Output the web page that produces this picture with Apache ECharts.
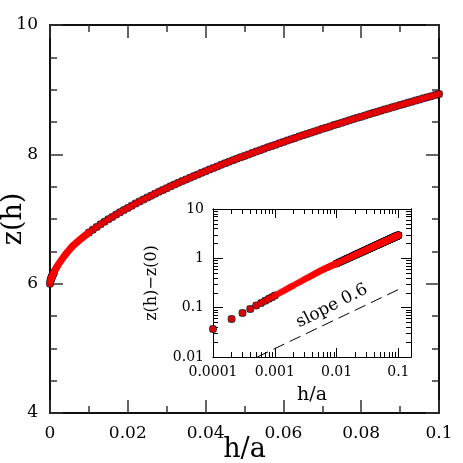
<!DOCTYPE html>
<html>
<head>
<meta charset="utf-8">
<title>z(h)</title>
<script src="https://cdn.jsdelivr.net/npm/echarts@6.0.0/dist/echarts.min.js"></script>
<style>html,body{margin:0;padding:0;background:#fff;}</style>
</head>
<body>
<div id="main" style="width:463px;height:463px;"></div>
<script>
// h/a samples (fine below 0.01, coarse above)
var hVals = [
  0,
  0.0001, 0.0002, 0.0003, 0.0004, 0.0005, 0.0006, 0.0007, 0.0008, 0.0009, 0.001,
  0.0011, 0.0012, 0.0013, 0.0014, 0.0015, 0.0016, 0.0017, 0.0018, 0.0019, 0.002,
  0.0022, 0.0024, 0.0026, 0.0028, 0.003, 0.0032, 0.0034, 0.0036, 0.0038, 0.004,
  0.0042, 0.0044, 0.0046, 0.0048, 0.005, 0.0052, 0.0054, 0.0056, 0.0058, 0.006,
  0.0062, 0.0064, 0.0066, 0.0068, 0.007, 0.0072, 0.0074, 0.0076, 0.0078, 0.008,
  0.0082, 0.0084, 0.0086, 0.0088, 0.009, 0.0092, 0.0094, 0.0096, 0.0098, 0.01,
  0.011, 0.012, 0.013, 0.014, 0.015, 0.016, 0.017, 0.018, 0.019, 0.02,
  0.021, 0.022, 0.023, 0.024, 0.025, 0.026, 0.027, 0.028, 0.029, 0.03,
  0.031, 0.032, 0.033, 0.034, 0.035, 0.036, 0.037, 0.038, 0.039, 0.04,
  0.041, 0.042, 0.043, 0.044, 0.045, 0.046, 0.047, 0.048, 0.049, 0.05,
  0.051, 0.052, 0.053, 0.054, 0.055, 0.056, 0.057, 0.058, 0.059, 0.06,
  0.061, 0.062, 0.063, 0.064, 0.065, 0.066, 0.067, 0.068, 0.069, 0.07,
  0.071, 0.072, 0.073, 0.074, 0.075, 0.076, 0.077, 0.078, 0.079, 0.08,
  0.081, 0.082, 0.083, 0.084, 0.085, 0.086, 0.087, 0.088, 0.089, 0.09,
  0.091, 0.092, 0.093, 0.094, 0.095, 0.096, 0.097, 0.098, 0.099, 0.1
];
// z(h)
var zVals = [
  6.000,
  6.037, 6.059, 6.078, 6.094, 6.110, 6.124, 6.138, 6.151, 6.163, 6.176,
  6.188, 6.199, 6.210, 6.221, 6.232, 6.242, 6.252, 6.262, 6.272, 6.282,
  6.301, 6.319, 6.337, 6.354, 6.371, 6.388, 6.404, 6.420, 6.436, 6.451,
  6.467, 6.482, 6.496, 6.511, 6.525, 6.539, 6.553, 6.567, 6.579, 6.590,
  6.601, 6.612, 6.623, 6.634, 6.644, 6.655, 6.665, 6.675, 6.685, 6.695,
  6.705, 6.715, 6.724, 6.734, 6.744, 6.753, 6.762, 6.771, 6.781, 6.790,
  6.834, 6.876, 6.917, 6.956, 6.995, 7.032, 7.068, 7.104, 7.138, 7.172,
  7.205, 7.238, 7.269, 7.300, 7.331, 7.361, 7.391, 7.420, 7.449, 7.477,
  7.505, 7.532, 7.559, 7.586, 7.612, 7.638, 7.664, 7.690, 7.715, 7.740,
  7.765, 7.789, 7.813, 7.837, 7.861, 7.884, 7.907, 7.930, 7.953, 7.976,
  7.998, 8.021, 8.043, 8.064, 8.086, 8.108, 8.129, 8.150, 8.172, 8.192,
  8.213, 8.234, 8.254, 8.275, 8.295, 8.315, 8.335, 8.354, 8.374, 8.394,
  8.413, 8.432, 8.452, 8.471, 8.490, 8.508, 8.527, 8.546, 8.565, 8.583,
  8.601, 8.619, 8.638, 8.656, 8.674, 8.692, 8.709, 8.727, 8.745, 8.762,
  8.780, 8.797, 8.814, 8.832, 8.848, 8.866, 8.883, 8.900, 8.916, 8.933
];
var z0 = 6.0;

// main panel ticks
var mainXMajor = [0, 0.02, 0.04, 0.06, 0.08, 0.1];
var mainXMinor = [0.01, 0.03, 0.05, 0.07, 0.09];
var mainYMajor = [4, 6, 8, 10];
var mainYMinor = [4.5, 5, 5.5, 6.5, 7, 7.5, 8.5, 9, 9.5];

// inset ticks
var insetXMajor = [0.0001, 0.001, 0.01, 0.1];
var insetYMajor = [0.01, 0.1, 1, 10];
var slopeLine = [[0.00052, 0.01], [0.1, 0.233]];

function minorsOf(decades) {
  var out = [];
  decades.forEach(function (d) {
    for (var m = 2; m <= 9; m++) out.push(+(m * d).toPrecision(3));
  });
  return out;
}
var insetXMinor = minorsOf([0.0001, 0.001, 0.01]);
var insetYMinor = minorsOf([0.01, 0.1, 1]);

// build point lists
var allPts = [], markPts = [], insetAll = [], insetMark = [];
for (var i = 0; i < hVals.length; i++) {
  var h = hVals[i];
  allPts.push([h, zVals[i]]);
  var marked = (h <= 0.001 || h >= 0.01);
  if (marked) markPts.push([h, zVals[i]]);
  if (h > 0) {
    var d = +(zVals[i] - z0).toFixed(4);
    insetAll.push([h, d]);
    if (marked) insetMark.push([h, d]);
  }
}

var FONT = 'DejaVu Serif';
var crossPath = 'path://M0,0L10,10M10,0L0,10';

function logLabel(v) { return String(+(+v).toPrecision(3)); }

// one axis = line + ticks at given values, pointing inward
function makeAxis(type, grid, pos, min, max, ticks, len, color, width, extra) {
  var a = {
    type: type,
    gridIndex: grid,
    position: pos,
    min: min,
    max: max,
    axisLine: { show: true, onZero: false, lineStyle: { color: '#000', width: width } },
    axisTick: { show: true, inside: true, length: len, customValues: ticks, lineStyle: { color: color, width: width } },
    splitLine: { show: false },
    axisLabel: { show: false },
    nameMoveOverlap: false
  };
  if (extra) for (var k in extra) a[k] = extra[k];
  return a;
}

var mainLabel = { color: '#000', fontSize: 17, fontFamily: FONT, margin: 12 };
var insetLabel = { color: '#000', fontSize: 14, fontFamily: FONT, formatter: logLabel };

var myChart = echarts.init(document.getElementById('main'));

var option = {
  backgroundColor: '#fff',
  animation: false,
  grid: [
    { left: 50, right: 24, top: 25, bottom: 50, show: false, outerBoundsMode: 'none', containLabel: false },
    { left: 213, right: 52, top: 209, bottom: 106, show: true, backgroundColor: '#fff', borderWidth: 0, outerBoundsMode: 'none', containLabel: false }
  ],
  xAxis: [
    makeAxis('value', 0, 'bottom', 0, 0.1, mainXMajor, 13, '#333', 1.5, {
      axisLabel: Object.assign({ show: true, customValues: mainXMajor }, mainLabel),
      name: 'h/a', nameLocation: 'middle', nameGap: 23,
      nameTextStyle: { color: '#000', fontSize: 27, fontFamily: FONT }
    }),
    makeAxis('value', 0, 'bottom', 0, 0.1, mainXMinor, 7, '#333', 1.5),
    makeAxis('value', 0, 'top', 0, 0.1, mainXMajor, 13, '#333', 1.5),
    makeAxis('value', 0, 'top', 0, 0.1, mainXMinor, 7, '#333', 1.5),
    makeAxis('log', 1, 'bottom', 0.0001, 0.16, insetXMajor, 9, '#000', 1, {
      axisLabel: Object.assign({ show: true, customValues: insetXMajor, margin: 8 }, insetLabel),
      name: 'h/a', nameLocation: 'middle', nameGap: 29,
      nameTextStyle: { color: '#000', fontSize: 19, fontFamily: FONT }
    }),
    makeAxis('log', 1, 'bottom', 0.0001, 0.16, insetXMinor, 5, '#000', 1),
    makeAxis('log', 1, 'top', 0.0001, 0.16, insetXMajor, 9, '#000', 1),
    makeAxis('log', 1, 'top', 0.0001, 0.16, insetXMinor, 5, '#000', 1)
  ],
  yAxis: [
    makeAxis('value', 0, 'left', 4, 10, mainYMajor, 13, '#333', 1.5, {
      axisLabel: Object.assign({ show: true, customValues: mainYMajor }, mainLabel),
      name: 'z(h)', nameLocation: 'middle', nameGap: 23,
      nameTextStyle: { color: '#000', fontSize: 27, fontFamily: FONT }
    }),
    makeAxis('value', 0, 'left', 4, 10, mainYMinor, 7, '#333', 1.5),
    makeAxis('value', 0, 'right', 4, 10, mainYMajor, 13, '#333', 1.5),
    makeAxis('value', 0, 'right', 4, 10, mainYMinor, 7, '#333', 1.5),
    makeAxis('log', 1, 'left', 0.01, 10, insetYMajor, 10, '#000', 1, {
      axisLabel: Object.assign({ show: true, customValues: insetYMajor, margin: 9 }, insetLabel),
      name: 'z(h)\u2212z(0)', nameLocation: 'middle', nameGap: 53,
      nameTextStyle: { color: '#000', fontSize: 16, fontFamily: FONT }
    }),
    makeAxis('log', 1, 'left', 0.01, 10, insetYMinor, 5, '#000', 1),
    makeAxis('log', 1, 'right', 0.01, 10, insetYMajor, 10, '#000', 1),
    makeAxis('log', 1, 'right', 0.01, 10, insetYMinor, 5, '#000', 1)
  ],
  series: [
    // main panel
    {
      type: 'scatter', xAxisIndex: 0, yAxisIndex: 0, data: markPts, clip: false,
      symbol: crossPath, symbolSize: 6,
      itemStyle: { color: 'none', borderColor: '#0000ff', borderWidth: 1.2 }
    },
    {
      type: 'scatter', xAxisIndex: 0, yAxisIndex: 0, data: markPts, clip: false,
      symbol: 'circle', symbolSize: 8, itemStyle: { color: '#000' }
    },
    {
      type: 'scatter', xAxisIndex: 0, yAxisIndex: 0, data: allPts, clip: false,
      symbol: 'circle', symbolSize: 6.8, itemStyle: { color: '#ff0000' }
    },
    // inset
    {
      type: 'line', xAxisIndex: 4, yAxisIndex: 4, data: slopeLine, symbol: 'none',
      lineStyle: { color: '#000', width: 1, type: [12, 6] }
    },
    {
      type: 'scatter', xAxisIndex: 4, yAxisIndex: 4, data: insetMark, clip: false,
      symbol: crossPath, symbolSize: 6,
      itemStyle: { color: 'none', borderColor: '#0000ff', borderWidth: 1.2 }
    },
    {
      type: 'scatter', xAxisIndex: 4, yAxisIndex: 4, data: insetMark, clip: false,
      symbol: 'circle', symbolSize: 8, itemStyle: { color: '#000' }
    },
    {
      type: 'scatter', xAxisIndex: 4, yAxisIndex: 4, data: insetAll, clip: false,
      symbol: 'circle', symbolSize: 6.5, itemStyle: { color: '#ff0000' }
    }
  ],
  graphic: [{
    type: 'text', x: 332, y: 306, rotation: 27 * Math.PI / 180,
    style: { text: 'slope 0.6', fill: '#000', font: '17px "DejaVu Serif"', align: 'center', verticalAlign: 'middle' }
  }]
};

myChart.setOption(option);
</script>
</body>
</html>
